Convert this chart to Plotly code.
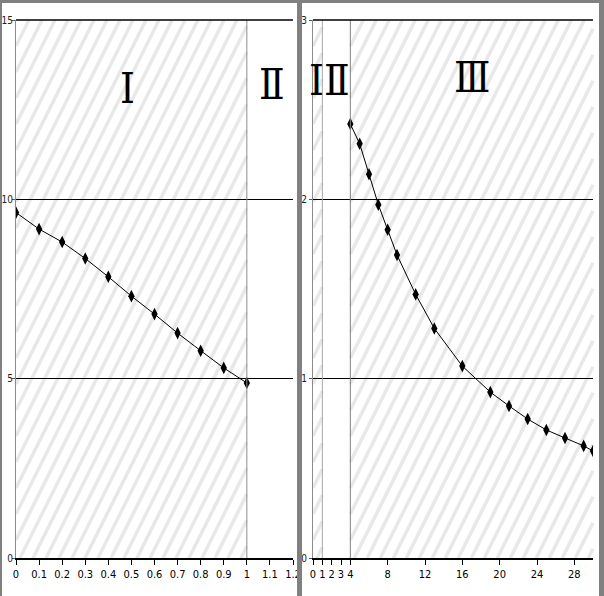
import plotly.graph_objects as go
from plotly.subplots import make_subplots

W, H = 604, 596

# left chart: regions I / II
left_x = [0, 0.1, 0.2, 0.3, 0.4, 0.5, 0.6, 0.7, 0.8, 0.9, 1.0]
left_y = [9.63, 9.17, 8.81, 8.35, 7.84, 7.30, 6.80, 6.27, 5.78, 5.30, 4.88]
left_hatched = [(0, 1)]
left_split = [1]
left_labels = [("Ⅰ", 0.485, 13.1), ("Ⅱ", 1.11, 13.2)]

# right chart: regions I / II / III
right_x = [4, 5, 6, 7, 8, 9, 11, 13, 16, 19, 21, 23, 25, 27, 29, 30]
right_y = [2.42, 2.31, 2.14, 1.97, 1.83, 1.69, 1.47, 1.28, 1.07, 0.925,
           0.848, 0.775, 0.714, 0.669, 0.625, 0.597]
right_hatched = [(0, 1), (4, 30)]
right_split = [1, 4]
right_split_colors = ["#a8a8a8", "#808080"]
right_labels = [("Ⅰ", 0.4, 2.66), ("Ⅱ", 2.6, 2.66), ("Ⅲ", 17.0, 2.68)]
right_ticks = [0, 1, 2, 3, 4, 8, 12, 16, 20, 24, 28]

left_dom = [16 / W, 293 / W]
right_dom = [313 / W, 593 / W]
y_dom = [1 - 558 / H, 1 - 20 / H]
left_range = [0, 1.2]
right_range = [0, 30]

fig = make_subplots(rows=1, cols=2)

for x, y, col in [(left_x, left_y, 1), (right_x, right_y, 2)]:
    fig.add_trace(
        go.Scatter(
            x=x, y=y, mode="lines+markers",
            line=dict(color="black", width=1),
            marker=dict(symbol="diamond-tall", size=9, color="black"),
            showlegend=False,
        ),
        row=1, col=col,
    )


def to_px(v, dom, rng):
    return (dom[0] + (v - rng[0]) / (rng[1] - rng[0]) * (dom[1] - dom[0])) * W


shapes = []
top_px, bot_px = 20, 558


def hatch(x0p, x1p):
    # steep light-grey stripes clipped to a rectangle (pixel space)
    h = bot_px - top_px
    slope = 2.0
    c = x0p - h / slope - 13
    while c < x1p:
        xa, xb = max(c, x0p), min(c + h / slope, x1p)
        if xb > xa:
            ya = bot_px - slope * (xa - c)
            yb = bot_px - slope * (xb - c)
            shapes.append(dict(
                type="line", xref="paper", yref="paper", layer="below",
                x0=xa / W, x1=xb / W, y0=1 - ya / H, y1=1 - yb / H,
                line=dict(color="#e8e8e8", width=3.5),
            ))
        c += 13


for a, b in left_hatched:
    hatch(to_px(a, left_dom, left_range), to_px(b, left_dom, left_range))
for a, b in right_hatched:
    hatch(to_px(a, right_dom, right_range), to_px(b, right_dom, right_range))

# region split lines
for v in left_split:
    shapes.append(dict(type="line", xref="x", yref="y domain", x0=v, x1=v,
                       y0=0, y1=1, line=dict(color="#8c8c8c", width=1)))
for v, c in zip(right_split, right_split_colors):
    shapes.append(dict(type="line", xref="x2", yref="y2 domain", x0=v, x1=v,
                       y0=0, y1=1, line=dict(color=c, width=1)))

# top lines
for dom in (left_dom, right_dom):
    shapes.append(dict(type="line", xref="paper", yref="paper",
                       x0=dom[0], x1=dom[1], y0=y_dom[1], y1=y_dom[1],
                       line=dict(color="black", width=1.5)))

# chart frames
frame = "#808080"
for x0, x1, y0, y1 in [(0, 2, 0, H), (0, W, 0, 3), (297, 302, 0, H), (599, W, 0, H)]:
    shapes.append(dict(type="rect", xref="paper", yref="paper", layer="above",
                       x0=x0 / W, x1=x1 / W, y0=1 - y1 / H, y1=1 - y0 / H,
                       fillcolor=frame, line=dict(width=0)))

roman_font = dict(family="DejaVu Serif Condensed, DejaVu Serif", size=42, color="black")
annotations = []
for lab, xa, ya in left_labels:
    annotations.append(dict(text=lab, x=xa, y=ya, xref="x", yref="y",
                            showarrow=False, font=roman_font))
for lab, xa, ya in right_labels:
    annotations.append(dict(text=lab, x=xa, y=ya, xref="x2", yref="y2",
                            showarrow=False, font=roman_font))

tick_font = dict(family="Liberation Sans Narrow, DejaVu Sans Condensed, sans-serif",
                 size=11, color="black")
ytick_font = dict(family="Liberation Sans Narrow, DejaVu Sans Condensed, sans-serif",
                  size=10, color="#222222")

fig.update_layout(
    width=W, height=H,
    margin=dict(l=0, r=0, t=0, b=0),
    paper_bgcolor="white",
    plot_bgcolor="rgba(0,0,0,0)",
    shapes=shapes,
    annotations=annotations,
    xaxis=dict(domain=left_dom, range=left_range, tickmode="array",
               tickvals=[round(i * 0.1, 1) for i in range(13)],
               ticktext=["0", "0.1", "0.2", "0.3", "0.4", "0.5", "0.6", "0.7",
                         "0.8", "0.9", "1", "1.1", "1.2"],
               showgrid=False, zeroline=False, showline=True, linecolor="black",
               linewidth=1.5, ticks="outside", ticklen=5, tickcolor="black",
               tickfont=tick_font, automargin=False),
    yaxis=dict(domain=y_dom, range=[0, 15], tickvals=[0, 5, 10, 15],
               showgrid=True, gridcolor="black", gridwidth=1.2, zeroline=False,
               showline=True, linecolor="#8c8c8c", ticks="outside", ticklen=3,
               tickcolor="#555555", tickfont=ytick_font, ticklabelstandoff=-3,
               automargin=False),
    xaxis2=dict(domain=right_dom, range=right_range, tickmode="array",
                tickvals=right_ticks, showgrid=False, zeroline=False,
                showline=True, linecolor="black", linewidth=1.5, ticks="outside",
                ticklen=5, tickcolor="black", tickfont=tick_font, automargin=False),
    yaxis2=dict(domain=y_dom, range=[0, 3], tickvals=[0, 1, 2, 3],
                showgrid=True, gridcolor="black", gridwidth=1.2, zeroline=False,
                showline=True, linecolor="#8c8c8c", ticks="outside", ticklen=3,
                tickcolor="#555555", tickfont=ytick_font, automargin=False),
)

# drop the default page margin so the figure sits at the window's corner
fig.write_html("out.html", config={"displayModeBar": False},
               post_script="document.body.style.margin='0';")
